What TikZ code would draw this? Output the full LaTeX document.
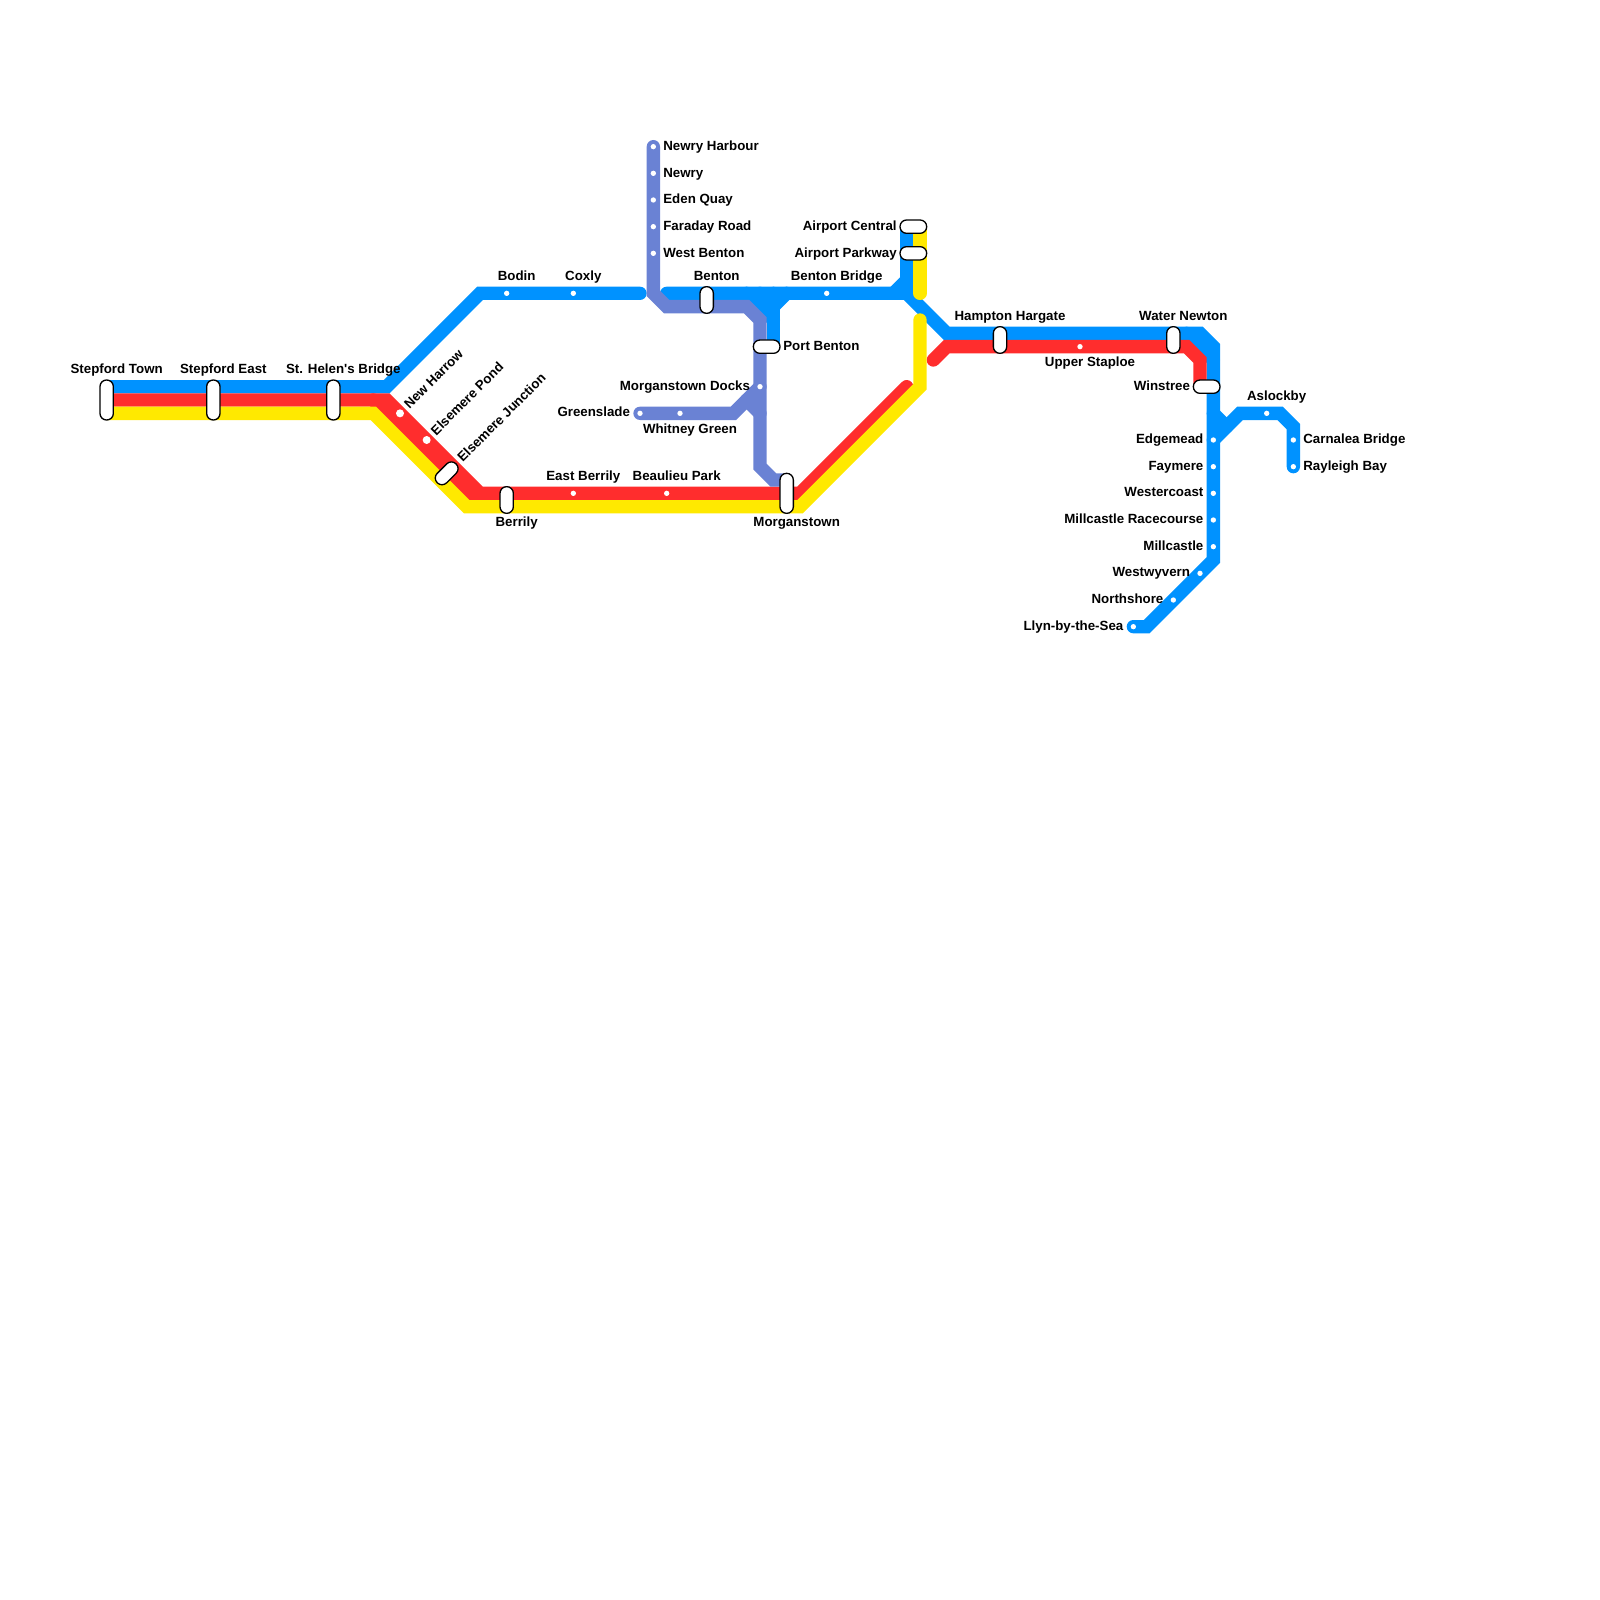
\documentclass[tikz,border=0pt]{standalone}
\usepackage{fontspec}
\setmainfont{Liberation Sans}
\definecolor{metroblue}{RGB}{0,146,255}
\definecolor{metrored}{RGB}{255,45,45}
\definecolor{metroyellow}{RGB}{255,233,0}
\definecolor{metropurple}{RGB}{106,130,212}
\tikzset{
  track/.style={line width=2.5mm,line cap=round,line join=miter},
  stopdot/.style={circle,fill=white,inner sep=0pt,minimum size=1mm},
  bigdot/.style={circle,fill=white,inner sep=0pt,minimum size=1.5mm},
  capsule/.style={draw=black,fill=white,line width=0.7pt,rounded corners=3.5pt,inner sep=0pt,outer sep=0pt},
  capshort/.style={capsule,minimum width=2.5mm,minimum height=5mm},
  captall/.style={capsule,minimum width=2.5mm,minimum height=7.5mm},
  capwide/.style={capsule,minimum width=5mm,minimum height=2.5mm},
  stoplabel/.style={font=\bfseries\fontsize{7.1}{8}\selectfont,inner sep=0pt,outer sep=0pt}
}
\begin{document}
\begin{tikzpicture}[x=0.5cm,y=-0.5cm]
    \useasboundingbox (0,0) rectangle (60,60);
    \foreach \n/\x/\y in {
      bA/4/14.5,bB/14.5/14.5,bC/18/11,bD/24/11,bE/25/11,bF/34/11,bG/35.5/12.5,bH/45/12.5,bI/45.5/13,
      bJ/45.5/21,bK/43/23.5,bL/42.5/23.5,bM/45.5/16.5,bN/46.5/15.5,bO/48/15.5,bP/48.5/16,bQ/48.5/17.5,
      bR/45.5/15.5,bS/46/16,bT/34/8.5,bU/34/10.5,bV/33.5/11,bW/28/11,bX/29/12,bY/29/11,bZ/29/13,
      bAa/29/11.5,bAb/29.5/11,bAc/44.5/12.5,bAd/45.5/13.5,bAe/28.5/11,
      rA/4/15,rB/14.5/15,rC/18/18.5,rD/30/18.5,rE/34/14.5,rF/14/15,rG/17.75/18.75,
      rH/35/13.5,rI/35.5/13,rJ/44.5/13,rK/45/13.5,rL/45/14.5,
      yA/4/15.5,yB/14/15.5,yC/17.5/19,yD/30/19,yE/34.5/14.5,yF/34.5/12,yG/34.5/8.5,yH/34.5/11,
      pA/24.5/5.5,pB/24.5/11,pC/25/11.5,pD/28/11.5,pE/28.5/12,pF/28.5/17.5,pG/29/18,pH/29.5/18,
      pI/24/15.5,pJ/27.5/15.5,pK/28.5/14.5,pL/28/15,pM/28.5/15.5}
      {\coordinate (\n) at (\x,\y);}
    % blue line
    \draw[track,metroblue] (bA) -- (bB) -- (bC) -- (bD);
    \draw[track,metroblue] (bE) -- (bF) -- (bG) -- (bH) -- (bI) -- (bJ) -- (bK) -- (bL);
    \draw[track,metroblue] (bM) -- (bN) -- (bO) -- (bP) -- (bQ);
    \draw[track,metroblue] (bR) -- (bS);
    \draw[track,metroblue] (bT) -- (bF);
    \draw[track,metroblue] (bU) -- (bV);
    \draw[track,metroblue] (bW) -- (bX);
    \draw[track,metroblue] (bAe) -- (bAa);
    \draw[track,metroblue] (bY) -- (bZ);
    \draw[track,metroblue] (bAa) -- (bAb);
    \draw[track,metroblue] (bAc) -- (bAd);
    % red line
    \draw[track,metrored] (rA) -- (rB) -- (rC) -- (rD) -- (rE);
    \draw[track,metrored] (rF) -- (rG);
    \draw[track,metrored] (rH) -- (rI) -- (rJ) -- (rK) -- (rL);
    % yellow line
    \draw[track,metroyellow] (yA) -- (yB) -- (yC) -- (yD) -- (yE) -- (yF);
    \draw[track,metroyellow] (yG) -- (yH);
    % purple line
    \draw[track,metropurple] (pA) -- (pB) -- (pC) -- (pD) -- (pE) -- (pF) -- (pG) -- (pH);
    \draw[track,metropurple] (pI) -- (pJ) -- (pK);
    \draw[track,metropurple] (pL) -- (pM);
    % plain stops
    \foreach \n/\x/\y in {bodin/19/11,coxly/21.5/11,bentonbridge/31/11,upperstaploe/40.5/13,
      aslockby/47.5/15.5,carnalea/48.5/16.5,rayleigh/48.5/17.5,edgemead/45.5/16.5,faymere/45.5/17.5,
      westercoast/45.5/18.5,racecourse/45.5/19.5,millcastle/45.5/20.5,westwyvern/45/21.5,
      northshore/44/22.5,llyn/42.5/23.5,eastberrily/21.5/18.5,beaulieu/25/18.5,
      harbour/24.5/5.5,newry/24.5/6.5,eden/24.5/7.5,faraday/24.5/8.5,westbenton/24.5/9.5,
      docks/28.5/14.5,greenslade/24/15.5,whitney/25.5/15.5}
      {\node[stopdot] (\n) at (\x,\y) {};}
    \node[bigdot] (newharrow) at (15,15.5) {};
    \node[bigdot] (elsemerepond) at (16,16.5) {};
    % interchanges
    \node[captall] (stepfordtown) at (4,15) {};
    \node[captall] (stepfordeast) at (8,15) {};
    \node[captall] (sthelens) at (12.5,15) {};
    \node[captall] (morganstown) at (29.5,18.5) {};
    \node[capshort] (berrily) at (19,18.75) {};
    \node[capshort] (benton) at (26.5,11.25) {};
    \node[capshort] (hampton) at (37.5,12.75) {};
    \node[capshort] (waternewton) at (44,12.75) {};
    \node[capwide] (portbenton) at (28.75,13) {};
    \node[capwide] (airportcentral) at (34.25,8.5) {};
    \node[capwide] (airportparkway) at (34.25,9.5) {};
    \node[capwide] (winstree) at (45.25,14.5) {};
    \node[capwide,rotate=45] (junction) at (16.75,17.75) {};
    % labels above and below
    \foreach \n/\x/\y/\t in {
      lstepfordtown/4.375/14/Stepford Town,lstepfordeast/8.375/14/Stepford East,
      lsthelens/12.875/14/St. Helen\textquotesingle s Bridge,lbodin/19.375/10.52/Bodin,
      lcoxly/21.875/10.52/Coxly,lbenton/26.875/10.52/Benton,lbentonbridge/31.375/10.52/Benton Bridge,
      leastberrily/21.875/18/East Berrily,lbeaulieu/25.375/18/Beaulieu Park,
      lberrily/19.375/19.75/Berrily,lmorganstown/29.875/19.75/Morganstown,
      lwhitney/25.875/16.25/Whitney Green,lstaploe/40.875/13.75/Upper Staploe,
      lhampton/37.875/12.02/Hampton Hargate,lwaternewton/44.375/12.02/Water Newton,
      laslockby/47.875/15/Aslockby}
      {\node[stoplabel,anchor=base] (\n) at (\x,\y) {\t};}
    % labels to the right
    \foreach \n/\x/\y/\t in {
      lharbour/24.875/5.645/Newry Harbour,lnewry/24.875/6.645/Newry,leden/24.875/7.645/Eden Quay,
      lfaraday/24.875/8.645/Faraday Road,lwestbenton/24.875/9.645/West Benton,
      lportbenton/29.375/13.125/Port Benton,lcarnalea/48.875/16.625/Carnalea Bridge,
      lrayleigh/48.875/17.625/Rayleigh Bay}
      {\node[stoplabel,anchor=base west] (\n) at (\x,\y) {\t};}
    % labels to the left
    \foreach \n/\x/\y/\t in {
      lairportcentral/33.625/8.645/Airport Central,lairportparkway/33.625/9.645/Airport Parkway,
      ldocks/28.125/14.625/Morganstown Docks,lgreenslade/23.625/15.625/Greenslade,
      lwinstree/44.625/14.625/Winstree,ledgemead/45.125/16.625/Edgemead,lfaymere/45.125/17.625/Faymere,
      lwestercoast/45.125/18.625/Westercoast,lracecourse/45.125/19.625/Millcastle Racecourse,
      lmillcastle/45.125/20.625/Millcastle,lwestwyvern/44.625/21.625/Westwyvern,
      lnorthshore/43.625/22.625/Northshore,lllyn/42.125/23.625/Llyn-by-the-Sea}
      {\node[stoplabel,anchor=base east] (\n) at (\x,\y) {\t};}
    % slanted labels
    \node[stoplabel,anchor=base west,rotate=45] (lnewharrow) at (15.36,15.35) {New Harrow};
    \node[stoplabel,anchor=base west,rotate=45] (lelsemerepond) at (16.36,16.35) {Elsemere Pond};
    \node[stoplabel,anchor=base west,rotate=45] (ljunction) at (17.36,17.35) {Elsemere Junction};
  \end{tikzpicture}
\end{document}
